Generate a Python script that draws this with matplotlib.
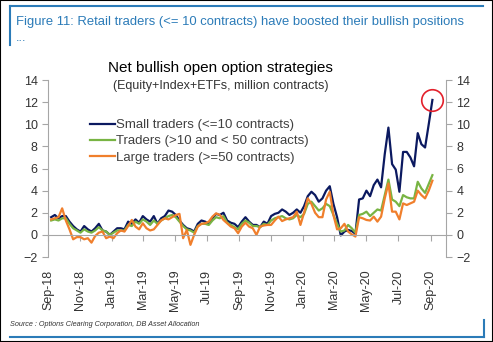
import pandas as pd
import matplotlib
matplotlib.use('Agg')
import matplotlib.pyplot as plt
from matplotlib.lines import Line2D
from matplotlib.patches import Rectangle

plt.rcParams['font.family'] = ['Liberation Sans', 'DejaVu Sans']

# weekly net bullish open option positions, million contracts
weeks = pd.date_range('2018-09-07', periods=105, freq='7D')

small = [1.6, 1.8, 1.5, 1.7, 1.7, 1.2, 0.8, 0.5, 0.3, 0.8,
         0.5, 0.3, 0.6, 1.0, 0.4, 0.3, 0.0, 0.3, 0.6, 0.6,
         0.5, 1.2, 1.0, 1.4, 1.1, 1.7, 1.4, 1.2, 1.7, 1.0,
         1.5, 1.7, 2.2, 2.1, 1.8, 1.3, 0.9, 0.6, 0.5, 0.3,
         1.0, 1.3, 1.2, 1.0, 1.5, 1.9, 1.8, 2.0, 1.3, 1.1,
         1.0, 0.7, 1.2, 1.6, 1.2, 0.9, 0.9, 0.7, 1.2, 1.0,
         1.7, 1.9, 2.0, 2.3, 2.1, 1.8, 2.0, 2.3, 2.0, 2.6,
         3.5, 3.9, 3.6, 3.0, 3.3, 4.0, 4.4, 2.8, 1.6, -0.05,
         0.3, 0.45, 0.35, 0.1, 3.2, 3.3, 4.0, 3.5, 4.5, 5.0,
         4.3, 7.3, 9.7, 6.4, 5.9, 3.9, 7.5, 7.5, 7.0, 6.2,
         9.2, 8.2, 7.9, 10.0, 12.2]

medium = [1.3, 1.4, 1.3, 1.5, 1.5, 1.0, 0.6, 0.4, 0.2, 0.5,
          0.3, 0.2, 0.4, 0.7, 0.4, 0.3, 0.0, 0.2, 0.4, 0.4,
          0.4, 0.9, 0.8, 1.2, 1.0, 1.4, 1.2, 0.9, 1.3, 1.0,
          1.3, 1.5, 1.7, 1.8, 1.6, 1.2, 0.8, 0.5, 0.4, 0.2,
          0.8, 1.0, 1.0, 0.9, 1.3, 1.6, 1.5, 1.7, 1.1, 0.9,
          0.7, 0.5, 1.0, 1.3, 1.1, 0.8, 0.8, 0.7, 1.0, 0.9,
          1.3, 1.5, 1.6, 1.7, 1.5, 1.4, 1.5, 1.8, 1.6, 1.9,
          2.8, 3.0, 2.6, 2.2, 2.4, 2.8, 2.6, 1.8, 1.0, 0.3,
          0.4, 0.9, 0.6, 0.2, 1.8, 1.9, 2.1, 1.7, 2.0, 2.3,
          2.2, 3.6, 5.0, 3.2, 3.0, 2.6, 3.6, 3.4, 3.3, 3.3,
          4.8, 4.2, 3.8, 4.6, 5.4]

large = [1.4, 1.5, 1.6, 2.4, 1.3, 0.5, -0.4, -0.2, -0.2, -0.4,
         -0.3, -0.7, -0.1, 0.2, 0.3, -0.3, -0.15, -0.3, 0.15, 0.4,
         0.3, 0.8, 1.35, 0.75, 0.5, 1.05, 0.6, 0.4, 0.5, 0.9,
         1.3, 1.5, 1.4, 1.6, 1.8, 1.9, -0.3, 0.45, -0.9, 0.0,
         0.75, 1.0, 1.05, 1.2, 1.65, 1.95, 1.8, 1.35, 1.05, 0.75,
         0.6, 0.15, 0.75, 1.1, 0.75, 0.6, 0.0, 0.75, 0.85, 0.9,
         0.9, 1.3, 1.65, 1.25, 1.4, 1.5, 1.6, 2.1, 0.9, 2.0,
         3.3, 2.8, 2.0, 1.6, 1.6, 3.2, 3.9, 1.8, 0.5, 0.6,
         1.0, 0.3, 0.05, -0.15, 1.6, 1.5, 1.35, 1.3, 1.65, 1.2,
         1.65, 3.3, 4.65, 2.1, 2.1, 1.4, 2.85, 2.7, 2.85, 3.0,
         4.0, 3.6, 3.3, 4.0, 4.9]

labels = ['Small traders (<=10 contracts)',
          'Traders (>10 and < 50 contracts)',
          'Large traders (>=50 contracts)']
colors = ['#0b1960', '#78b443', '#f07f2c']

blue = '#2b7bb8'
gray = '#a6a6a6'
txt = '#333333'

fig = plt.figure(figsize=(4.93, 3.42), dpi=100)
ax = fig.add_axes([0.0974, 0.2485, 0.8073, 0.5175])

for series, lab, col in zip([small, medium, large], labels, colors):
    ax.plot(weeks, series, color=col, lw=1.6, label=lab)

# circle the latest small-trader reading
ax.plot(weeks[-1:], small[-1:], 'o', ms=15.5, mfc='none', mec='#e3202b', mew=1.2)

ax.set_ylim(-2, 14)
ax.set_yticks(range(-2, 15, 2))
ax.set_xlim(pd.Timestamp('2018-09-01'), pd.Timestamp('2020-09-30'))
ticks = pd.date_range('2018-09-01', '2020-09-01', freq='2MS')
ax.set_xticks(ticks)
ax.set_xticklabels([d.strftime('%b-%y') for d in ticks])

ax.spines['top'].set_visible(False)
ax.spines['right'].set_visible(False)
ax.spines['left'].set_color(gray)
ax.spines['bottom'].set_color(gray)
ax.spines['bottom'].set_position(('data', 0))
ax.tick_params(axis='x', length=4, color=gray, pad=21, labelsize=9,
               labelcolor=txt, labelrotation=90)
ax.tick_params(axis='y', length=4, color=gray, labelsize=9, labelcolor=txt)

ax2 = ax.twinx()
ax2.set_ylim(-2, 14)
ax2.set_yticks(range(-2, 15, 2))
for s in ['top', 'bottom', 'left']:
    ax2.spines[s].set_visible(False)
ax2.spines['right'].set_color(gray)
ax2.tick_params(axis='y', length=4, color=gray, labelsize=9, labelcolor=txt)

leg = ax.legend(loc='upper left', bbox_to_anchor=(0.105, 0.78), frameon=False,
                fontsize=9.5, handlelength=1.9, handletextpad=0.05,
                labelspacing=0.3, borderpad=0, borderaxespad=0)
for t in leg.get_texts():
    t.set_color('#404040')

fig.text(220 / 493, 1 - 68 / 342, 'Net bullish open option strategies',
         ha='center', va='center', fontsize=11, color='black')
fig.text(221 / 493, 1 - 86 / 342, '(Equity+Index+ETFs, million contracts)',
         ha='center', va='center', fontsize=9, color=txt)

# report frame: header, footer, outer border
fig.text(16 / 493, 1 - 22 / 342,
         'Figure 11: Retail traders (<= 10 contracts) have boosted their bullish positions',
         ha='left', va='center', fontsize=9.4, color=blue)
fig.text(16 / 493, 1 - 38 / 342, '...', ha='left', va='center', fontsize=9.4, color=blue)
fig.add_artist(Line2D([10 / 493, 483 / 493], [1 - 6 / 342] * 2, color=blue, lw=1.5))
fig.add_artist(Line2D([10 / 493] * 2, [1 - 6 / 342, 1 - 45 / 342], color=blue, lw=1.5))

fig.text(10 / 493, 1 - 325 / 342,
         'Source : Options Clearing Corporation, DB Asset Allocation',
         ha='left', va='center', fontsize=5.2, style='italic', color=txt)
fig.add_artist(Line2D([10 / 493, 484 / 493], [1 - 337 / 342] * 2, color=blue, lw=1.5))
fig.add_artist(Line2D([484 / 493] * 2, [1 - 320 / 342, 1 - 337 / 342], color=blue, lw=1.5))

fig.add_artist(Rectangle((0, 0), 1, 1, transform=fig.transFigure, fill=False,
                         ec='black', lw=1.5))

fig.savefig('out.png', dpi=100)
